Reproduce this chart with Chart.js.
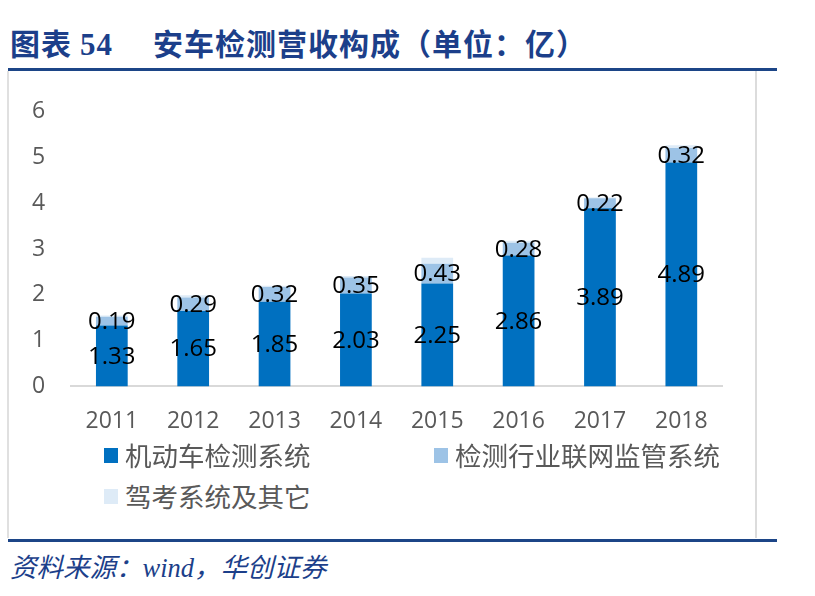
<!DOCTYPE html>
<html>
<head>
<meta charset="utf-8">
<script src="https://cdn.jsdelivr.net/npm/chart.js@4.4.1/dist/chart.umd.min.js"></script>
<style>
  body { margin: 0; background: #fff; }
  #page { position: relative; width: 815px; height: 596px; overflow: hidden; font-family: "Noto Sans CJK SC", sans-serif; }
  #title { position: absolute; left: 10px; top: 22px; font-size: 30px; font-weight: bold; color: #1C3F8A; white-space: pre; line-height: 40px; letter-spacing: 1px; }
  #title .num { font-family: "Liberation Serif", serif; font-size: 31px; margin-left: 8px; margin-right: 40px; }
  .rule { position: absolute; left: 8px; width: 769px; height: 3px; background: #1C4587; }
  #box { position: absolute; left: 7px; top: 71px; width: 746px; height: 467px; border-left: 2px solid #e0e0e0; border-right: 2px solid #dcdcdc; }
  #wrap { position: absolute; left: 6px; top: 72px; width: 749px; height: 390px; }
  #legend { position: absolute; left: 0; top: 0; }
  .item { position: absolute; display: flex; align-items: center; font-size: 26.5px; color: #595959; white-space: nowrap; line-height: 34px; }
  .item i { display: inline-block; width: 14px; height: 15px; margin-right: 7px; }
  #source { position: absolute; left: 10px; top: 546px; font-size: 26.5px; font-style: italic; color: #1C3F8A; font-family: "Liberation Serif", "Noto Sans CJK SC", serif; }
</style>
</head>
<body>
<div id="page">
  <div id="title">图表<span class="num">54</span>安车检测营收构成（单位：亿）</div>
  <div class="rule" style="top:68px"></div>
  <div id="box"></div>
  <div id="wrap"><canvas id="chart"></canvas></div>
  <div id="legend"></div>
  <div class="rule" style="top:539px"></div>
  <div id="source">资料来源：wind，华创证券</div>
</div>
<script>
const years = ["2011", "2012", "2013", "2014", "2015", "2016", "2017", "2018"];
const seriesNames = ["机动车检测系统", "检测行业联网监管系统", "驾考系统及其它"];
const vehicleTesting = [1.33, 1.65, 1.85, 2.03, 2.25, 2.86, 3.89, 4.89];
const networkSupervision = [0.19, 0.29, 0.32, 0.35, 0.43, 0.28, 0.22, 0.32];
const driverExamOther = [0.03, 0.05, 0.03, 0.03, 0.13, 0.04, 0.02, 0.06];
const yTicks = [0, 1, 2, 3, 4, 5, 6];

const colors = ["#0070C0", "#9DC3E6", "#DEEBF7"];
const tickFont = { family: "'Open Sans', sans-serif", size: 23 };

// draws the value in the middle of each bar segment (only first two series are labelled)
const barLabels = {
  id: "barLabels",
  afterDatasetsDraw(chart) {
    const ctx = chart.ctx;
    ctx.save();
    ctx.font = "24px 'Open Sans', sans-serif";
    ctx.fillStyle = "#000";
    ctx.textAlign = "center";
    ctx.textBaseline = "middle";
    [0, 1].forEach(i => {
      const meta = chart.getDatasetMeta(i);
      meta.data.forEach((bar, j) => {
        const v = chart.data.datasets[i].data[j];
        ctx.fillText(v.toFixed(2), bar.x, (bar.y + bar.base) / 2 + 1);
      });
    });
    ctx.restore();
  }
};

const chart = new Chart(document.getElementById("chart"), {
  type: "bar",
  data: {
    labels: years,
    datasets: [
      { label: seriesNames[0], data: vehicleTesting, backgroundColor: colors[0] },
      { label: seriesNames[1], data: networkSupervision, backgroundColor: colors[1] },
      { label: seriesNames[2], data: driverExamOther, backgroundColor: colors[2] }
    ]
  },
  options: {
    responsive: true,
    maintainAspectRatio: false,
    animation: false,
    layout: { padding: { left: 0, right: 33, top: 34, bottom: 6 } },
    datasets: { bar: { categoryPercentage: 1, barPercentage: 0.39 } },
    plugins: { legend: { display: false }, tooltip: { enabled: false } },
    scales: {
      x: {
        stacked: true,
        grid: { display: false, drawTicks: false },
        border: { color: "#d9d9d9", width: 2 },
        ticks: { font: tickFont, color: "#595959", padding: 21 }
      },
      y: {
        stacked: true,
        min: 0,
        max: 6,
        afterBuildTicks: axis => { axis.ticks = yTicks.map(v => ({ value: v })); },
        grid: { display: false, drawTicks: false },
        border: { display: false },
        ticks: { font: tickFont, color: "#595959", padding: 26 }
      }
    }
  },
  plugins: [barLabels]
});

// legend laid out like the original (two columns, then a second row)
const legendPos = [[104, 438], [434, 438], [104, 479]];
const legend = document.getElementById("legend");
chart.data.datasets.forEach((ds, i) => {
  const el = document.createElement("div");
  el.className = "item";
  el.style.left = legendPos[i][0] + "px";
  el.style.top = legendPos[i][1] + "px";
  el.innerHTML = `<i style="background:${ds.backgroundColor}"></i>${ds.label}`;
  legend.appendChild(el);
});
</script>
</body>
</html>
